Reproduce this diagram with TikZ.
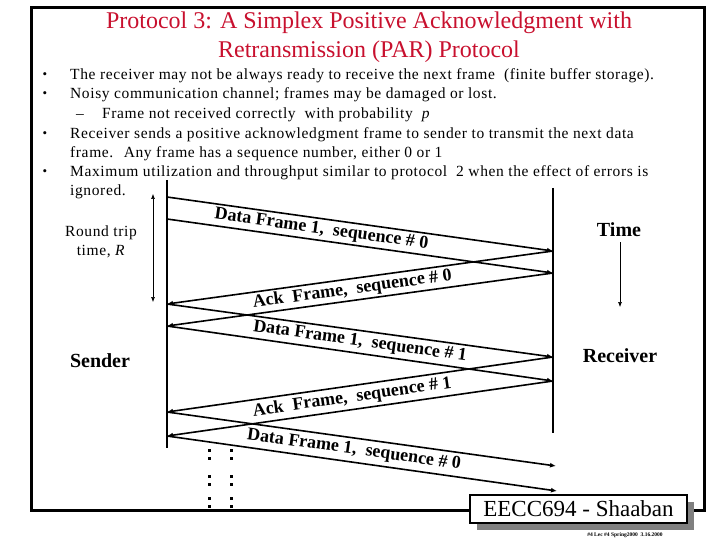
\documentclass[tikz,border=0pt]{standalone}
\usepackage{fontspec}
\setmainfont{Liberation Serif}
\usetikzlibrary{arrows.meta,calc,shadows}
\definecolor{titlered}{RGB}{200,16,46}
\definecolor{shadowgray}{RGB}{128,128,128}
\begin{document}
\begin{tikzpicture}[x=1pt,y=-1pt,
  bodyfont/.style={font=\fontsize{15.5}{19.3}\selectfont\addfontfeatures{LetterSpace=4}},
  body/.style={anchor=base west, inner sep=0pt, bodyfont},
  bul/.style={anchor=base, inner sep=0pt, font=\fontsize{13}{15}\selectfont},
  lbl/.style={font=\fontsize{18}{20}\selectfont\bfseries, inner sep=0pt, sloped},
  msg/.style={line width=1.6pt, -{Latex[length=6pt,width=5pt]}},
  life/.style={line width=1.6pt},
  thinarrow/.style={line width=0.6pt, -{Latex[length=5pt,width=4pt]}},
  side/.style={font=\fontsize{20}{22}\selectfont\bfseries, inner sep=0pt},
  dotsq/.style={fill=black, minimum size=3pt, inner sep=0pt}]
\useasboundingbox (0,0) rectangle (720,540);
% frame
\draw[line width=3pt] (31,8) rectangle (704,510);
% title
\node[font=\fontsize{24}{28}\selectfont, text=titlered, inner sep=0pt] (title1) at (369,23) {Protocol 3: A Simplex Positive Acknowledgment with};
\node[font=\fontsize{24}{28}\selectfont, text=titlered, inner sep=0pt] (title2) at (369,52) {Retransmission (PAR) Protocol};
% bullets
\node[bul] (b1) at (45,79) {•};
\node[bul] (b2) at (45,98) {•};
\node[bul] (b3) at (45,138) {•};
\node[bul] (b4) at (45,176) {•};
\node[body] (t1) at (70,80) {The receiver may not be always ready to receive the next frame \ (finite buffer storage).};
\node[body] (t2) at (70,99) {Noisy communication channel; frames may be damaged or lost.};
\node[body] (t3d) at (76,119) {–};
\node[body] (t3) at (102,119) {Frame not received correctly \ with probability \ \textit{p}};
\node[body] (t4) at (70,139) {Receiver sends a positive acknowledgment frame to sender to transmit the next data};
\node[body] (t5) at (70,158) {frame. \ Any frame has a sequence number, either 0 or 1};
\node[body] (t6) at (70,177) {Maximum utilization and throughput similar to protocol \ 2 when the effect of errors is};
\node[body] (t7) at (70,196) {ignored.};
% lifelines
\coordinate (stop) at (167,180);
\coordinate (sbot) at (167,448);
\coordinate (rtop) at (553,188);
\coordinate (rbot) at (553,433);
\draw[life] (stop) -- (sbot);
\draw[life] (rtop) -- (rbot);
% message endpoints
\coordinate (s1) at (167,197);
\coordinate (s2) at (167,219);
\coordinate (s3) at (167,304);
\coordinate (s4) at (167,326);
\coordinate (s5) at (167,412);
\coordinate (s6) at (167,436);
\coordinate (r1) at (553,251);
\coordinate (r2) at (553,273);
\coordinate (r3) at (553,357);
\coordinate (r4) at (553,381);
\coordinate (e1) at (556,466);
\coordinate (e2) at (557,491);
% data frame seq 0
\draw[msg] (s1) -- (r1);
\draw[msg] (s2) -- (r2);
% ack seq 0
\draw[msg] (r1) -- (s3);
\draw[msg] (r2) -- (s4);
% data frame seq 1
\draw[msg] (s3) -- (r3);
\draw[msg] (s4) -- (r4);
% ack seq 1
\draw[msg] (r3) -- (s5);
\draw[msg] (r4) -- (s6);
% data frame seq 0 again
\draw[msg] (s5) -- (e1);
\draw[msg] (s6) -- (e2);
% labels
\path ($(s1)!.5!(s2)$) -- ($(r1)!.5!(r2)$) node[lbl, pos=0.40] (l1) {Data Frame 1, \ sequence \# 0};
\path ($(r1)!.5!(r2)$) -- ($(s3)!.5!(s4)$) node[lbl, pos=0.52] (l2) {Ack \ Frame, \ sequence \# 0};
\path ($(s3)!.5!(s4)$) -- ($(r3)!.5!(r4)$) node[lbl, pos=0.50] (l3) {Data Frame 1, \ sequence \# 1};
\path ($(r3)!.5!(r4)$) -- ($(s5)!.5!(s6)$) node[lbl, pos=0.52] (l4) {Ack \ Frame, \ sequence \# 1};
\path ($(s5)!.5!(s6)$) -- ($(e1)!.5!(e2)$) node[lbl, pos=0.48] (l5) {Data Frame 1, \ sequence \# 0};
% round trip
\coordinate (rt1) at (153,194);
\coordinate (rt2) at (153,302);
\draw[line width=0.6pt, {Latex[length=5pt,width=4pt]}-{Latex[length=5pt,width=4pt]}] (rt1) -- (rt2);
\node[bodyfont, align=center, inner sep=0pt] (rtt) at (101,242) {Round trip\\time, \textit{R}};
% time
\node[side] (time) at (619,230) {Time};
\coordinate (tm1) at (620,242);
\coordinate (tm2) at (620,307);
\draw[thinarrow] (tm1) -- (tm2);
\node[side] (sender) at (100,361) {Sender};
\node[side] (receiver) at (620,356) {Receiver};
% continuation dots
\foreach \x in {209,231} {
  \foreach \y in {454,480,502} {
    \node[dotsq] at (\x,\y-4) {};
    \node[dotsq] at (\x,\y+4) {};
  }
}
% badge
\node[draw, line width=1.5pt, fill=white, minimum width=217pt, minimum height=28pt,
      drop shadow={shadow xshift=7pt, shadow yshift=-7pt, fill=shadowgray, opacity=1},
      font=\fontsize{23}{26}\selectfont] (badge) at (578.5,509) {EECC694 - Shaaban};
\node[font=\fontsize{5.5}{6}\selectfont\bfseries, inner sep=0pt] (foot) at (625,535) {\#4 Lec \#4 Spring2000 \ 3.16.2000};
\end{tikzpicture}
\end{document}
